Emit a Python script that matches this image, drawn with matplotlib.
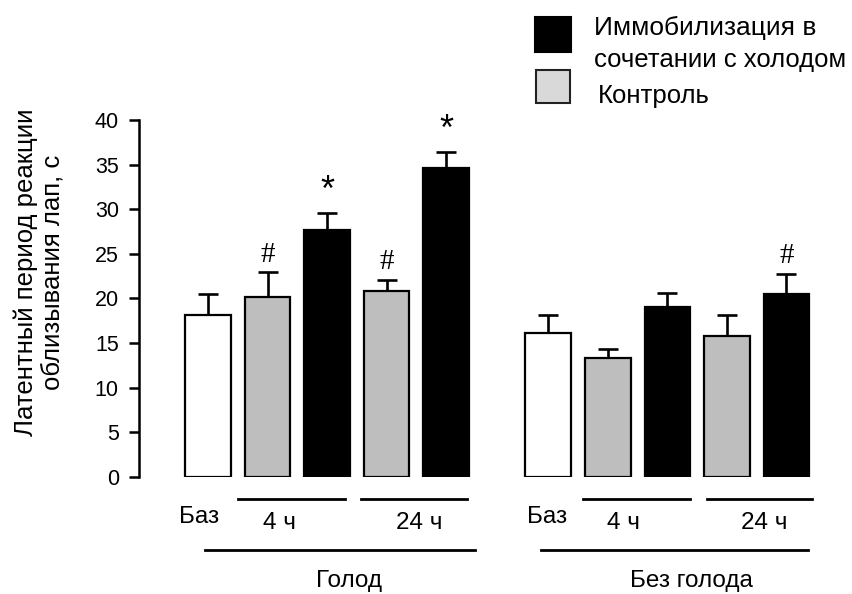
import matplotlib
matplotlib.use("Agg")
import matplotlib.pyplot as plt
import numpy as np
from matplotlib.patches import Rectangle
from matplotlib.lines import Line2D

plt.rcParams["font.family"] = ["Liberation Sans", "DejaVu Sans"]

# ── data ─────────────────────────────────────────────
group_names = ["Голод", "Без голода"]
bar_kind = ["base", "control", "stress", "control", "stress"]
hunger_means = [18.1, 20.1, 27.7, 20.8, 34.6]
hunger_err = [2.4, 2.8, 1.9, 1.3, 1.8]
hunger_marks = ["", "#", "*", "#", "*"]
nohunger_means = [16.1, 13.3, 19.0, 15.8, 20.5]
nohunger_err = [2.0, 1.0, 1.6, 2.3, 2.2]
nohunger_marks = ["", "", "", "", "#"]
yticks = [0, 5, 10, 15, 20, 25, 30, 35, 40]

COLORS = {"base": "white", "control": "#bebebe", "stress": "black"}
GROUP_SHIFT = [0.0, 5.72]
W, H = 853, 594

fig = plt.figure(figsize=(W / 100, H / 100), dpi=100)
ax = fig.add_axes([139 / W, 0.1975, 676 / W, 0.6005])
ax.set_xlim(-1.16, 10.2)
ax.set_ylim(0, 40)

series = [(hunger_means, hunger_err, hunger_marks),
          (nohunger_means, nohunger_err, nohunger_marks)]

for shift, (means, errs, marks) in zip(GROUP_SHIFT, series):
    x = np.arange(len(means)) + shift
    for xi, m, e, k, mk in zip(x, means, errs, bar_kind, marks):
        ax.bar(xi, m, width=0.77, color=COLORS[k], edgecolor="black",
               linewidth=1.6, zorder=2)
        ax.errorbar(xi, m, yerr=[[0], [e]], fmt="none", ecolor="black",
                    elinewidth=1.9, capsize=7.5, capthick=1.9, zorder=1)
        if mk == "#":
            ax.text(xi, m + e + 2.0, "#", ha="center", va="center",
                    fontsize=21, family="Liberation Serif", clip_on=False)
        elif mk == "*":
            ax.text(xi, m + e + 2.4, "*", ha="center", va="center",
                    fontsize=26, clip_on=False)

# axes styling
for s in ["top", "right", "bottom"]:
    ax.spines[s].set_visible(False)
ax.spines["left"].set_linewidth(1.8)
ax.set_xticks([])
ax.set_yticks(yticks)
ax.tick_params(axis="y", direction="out", length=7.5, width=1.8,
               labelsize=15.5, pad=7)

fig.text(39 / W, 1 - 272 / H, "Латентный период реакции\nоблизывания лап, с",
         rotation=90, ha="center", va="center", fontsize=18.5,
         linespacing=1.15, multialignment="center")

# bottom group annotations (layout per group, relative to group start)
tr = ax.get_xaxis_transform()
short_lines = [[(0.50, 2.30), (2.57, 4.35)], [(0.58, 2.38), (2.66, 4.43)]]
long_lines = [(-0.05, 4.49), (-0.12, 4.36)]
baz_x = [-0.15, -0.02]
h4_x = [1.20, 1.27]
h24_x = [3.55, 3.63]
name_x = [2.37, 2.41]
FS = 17.5
for gi, shift in enumerate(GROUP_SHIFT):
    for a, b in short_lines[gi]:
        ax.add_line(Line2D([a + shift, b + shift], [-0.0625, -0.0625],
                           transform=tr, color="black", lw=2, clip_on=False))
    a, b = long_lines[gi]
    ax.add_line(Line2D([a + shift, b + shift], [-0.205, -0.205],
                       transform=tr, color="black", lw=2, clip_on=False))
    ax.text(baz_x[gi] + shift, -0.113, "Баз", transform=tr, ha="center",
            va="center", fontsize=FS)
    ax.text(h4_x[gi] + shift, -0.13, "4 ч", transform=tr, ha="center",
            va="center", fontsize=FS)
    ax.text(h24_x[gi] + shift, -0.13, "24 ч", transform=tr, ha="center",
            va="center", fontsize=FS)
    ax.text(name_x[gi] + shift, -0.292, group_names[gi], transform=tr,
            ha="center", va="center", fontsize=FS)

# legend, drawn by hand
fig.patches.append(Rectangle((535 / W, 1 - 52 / H), 36 / W, 35 / H,
                             transform=fig.transFigure, facecolor="black",
                             edgecolor="black", lw=1.5))
fig.patches.append(Rectangle((536 / W, 1 - 103 / H), 34 / W, 33 / H,
                             transform=fig.transFigure, facecolor="#d9d9d9",
                             edgecolor="#222222", lw=1.5))
fig.text(594 / W, 1 - 28 / H, "Иммобилизация в", fontsize=19, va="center")
fig.text(594 / W, 1 - 60 / H, "сочетании с холодом", fontsize=18.5, va="center")
fig.text(598 / W, 1 - 96 / H, "Контроль", fontsize=18.5, va="center")

fig.savefig("out.png", dpi=100)
